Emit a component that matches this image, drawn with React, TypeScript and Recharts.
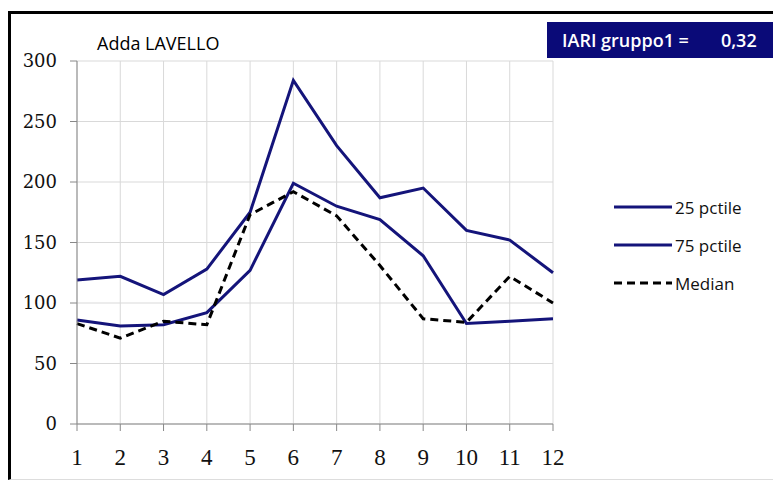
import React from "react";
import { LineChart, Line, XAxis, YAxis, CartesianGrid } from "recharts";

const months = [1, 2, 3, 4, 5, 6, 7, 8, 9, 10, 11, 12];
const pctile25 = [86, 81, 82, 92, 127, 199, 180, 169, 139, 83, 85, 87];
const pctile75 = [119, 122, 107, 128, 175, 284, 230, 187, 195, 160, 152, 125];
const median = [83, 71, 85, 82, 173, 192, 172, 131, 87, 84, 122, 100];
const yTicks = [0, 50, 100, 150, 200, 250, 300];

const NAVY = "#14147a";

const data = months.map((m, i) => ({
  m,
  p25: pctile25[i],
  p75: pctile75[i],
  med: median[i],
}));

const legendItems = [
  { label: "25 pctile", color: NAVY, dash: undefined },
  { label: "75 pctile", color: NAVY, dash: undefined },
  { label: "Median", color: "#000", dash: "8 5" },
];

// legenda a destra, fuori dal LineChart per non rubare spazio al grafico
const LegendBox = () => (
  <div style={{ position: "absolute", left: 614, top: 188, fontFamily: "Open Sans", fontSize: 17, color: "#111" }}>
    {legendItems.map((it) => (
      <div key={it.label} style={{ display: "flex", alignItems: "center", height: 38 }}>
        <svg width={60} height={10}>
          <line x1={0} y1={5} x2={58} y2={5} stroke={it.color} strokeWidth={3} strokeDasharray={it.dash} />
        </svg>
        <span style={{ marginLeft: 1 }}>{it.label}</span>
      </div>
    ))}
  </div>
);

export default function App() {
  return (
    <div style={{ position: "absolute", left: 0, top: 0, width: 773, height: 482, background: "#fff", overflow: "hidden" }}>
      <div
        style={{
          position: "absolute",
          left: 8,
          top: 11,
          width: 765,
          height: 469,
          boxSizing: "border-box",
          borderLeft: "3px solid #000",
          borderTop: "3px solid #000",
          borderBottom: "1px solid #ddd",
        }}
      />
      <div style={{ position: "absolute", left: 97, top: 31, fontFamily: "Open Sans", fontSize: 18, color: "#000" }}>
        Adda LAVELLO
      </div>
      <div
        style={{
          position: "absolute",
          left: 547,
          top: 22,
          width: 226,
          height: 36,
          background: "#0a0a78",
          color: "#fff",
          fontFamily: "Open Sans",
          fontSize: 18,
          fontWeight: 600,
          display: "flex",
          alignItems: "center",
        }}
      >
        <span style={{ marginLeft: 15 }}>IARI gruppo1 =</span>
        <span style={{ marginLeft: 32 }}>0,32</span>
      </div>
      <div style={{ position: "absolute", left: 0, top: 0 }}>
        <LineChart width={773} height={482} data={data} margin={{ top: 61, right: 220, left: 0, bottom: 0 }}>
          <CartesianGrid stroke="#d9d9d9" strokeWidth={1} />
          <XAxis
            dataKey="m"
            type="number"
            domain={[1, 12]}
            ticks={months}
            height={58}
            stroke="#888"
            tickSize={7}
            tickMargin={18}
            tick={{ fill: "#111", fontFamily: "Liberation Serif", fontSize: 23 }}
          />
          <YAxis
            domain={[0, 300]}
            ticks={yTicks}
            width={77}
            stroke="#888"
            tickSize={7}
            tickMargin={13}
            tick={{ fill: "#111", fontFamily: "DejaVu Serif", fontSize: 18 }}
          />
          <Line dataKey="p25" name="25 pctile" stroke={NAVY} strokeWidth={3} dot={false} isAnimationActive={false} />
          <Line dataKey="p75" name="75 pctile" stroke={NAVY} strokeWidth={3} dot={false} isAnimationActive={false} />
          <Line dataKey="med" name="Median" stroke="#000" strokeWidth={3} strokeDasharray="8 5" dot={false} isAnimationActive={false} />
        </LineChart>
      </div>
      <LegendBox />
    </div>
  );
}
